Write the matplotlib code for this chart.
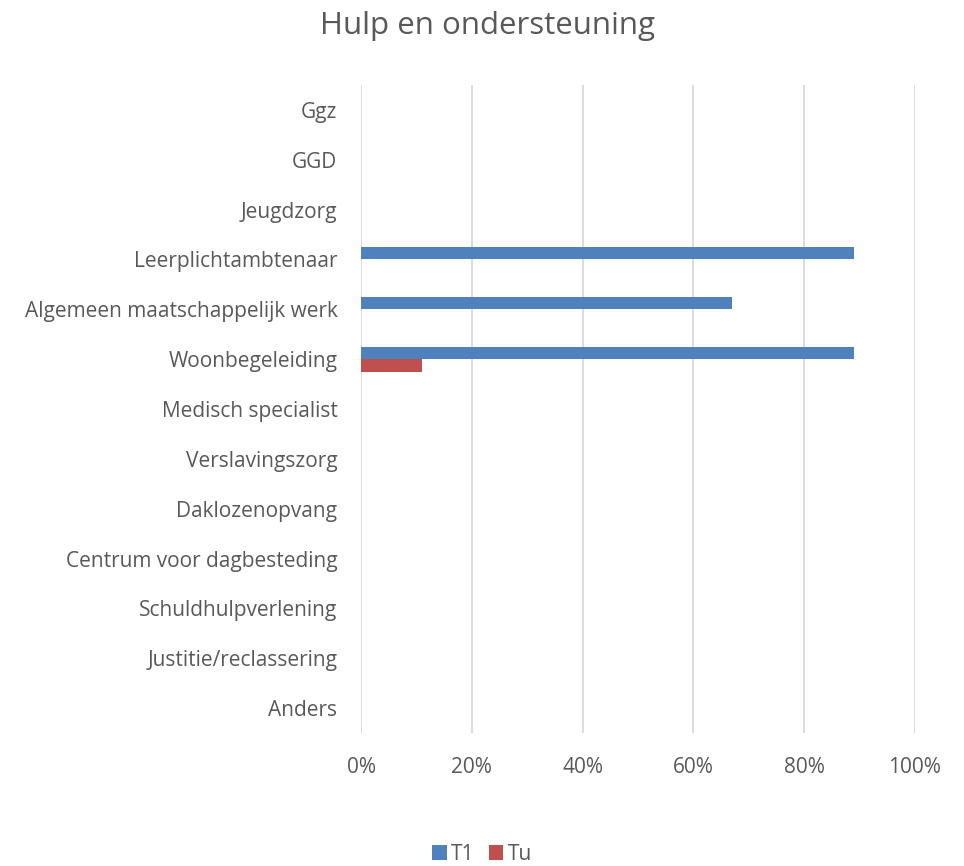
import matplotlib
matplotlib.use('Agg')
import matplotlib.pyplot as plt
import numpy as np

plt.rcParams['font.family'] = ['Open Sans', 'DejaVu Sans']

categories = ['Ggz', 'GGD', 'Jeugdzorg', 'Leerplichtambtenaar',
              'Algemeen maatschappelijk werk', 'Woonbegeleiding',
              'Medisch specialist', 'Verslavingszorg', 'Daklozenopvang',
              'Centrum voor dagbesteding', 'Schuldhulpverlening',
              'Justitie/reclassering', 'Anders']
t1 = [0, 0, 0, 89, 67, 89, 0, 0, 0, 0, 0, 0, 0]
tu = [0, 0, 0, 0, 0, 11, 0, 0, 0, 0, 0, 0, 0]
ticks = [0, 20, 40, 60, 80, 100]
tick_labels = ['0%', '20%', '40%', '60%', '80%', '100%']

grey = '#595959'
blue = '#4F81BD'
red = '#C0504D'

fig = plt.figure(figsize=(9.64, 8.66), dpi=100)
W, H = 964, 866
ax = fig.add_axes([361 / W, 1 - 733 / H, (915 - 361) / W, (733 - 85) / H])

y = np.arange(len(categories))
h = 0.25
ax.barh(y - h / 2, t1, height=h, color=blue, label='T1', zorder=3)
ax.barh(y + h / 2, tu, height=h, color=red, label='Tu', zorder=3)

ax.set_ylim(len(categories) - 0.5, -0.5)
ax.set_xlim(0, 100)
ax.set_xticks(ticks)
ax.set_xticklabels(tick_labels)
ax.set_yticks(y)
ax.set_yticklabels(categories)
ax.tick_params(length=0, labelsize=15, colors=grey)
ax.tick_params(axis='x', pad=17)
ax.tick_params(axis='y', pad=17)
ax.grid(axis='x', color='#D9D9D9', linewidth=1.3, zorder=0)
for s in ax.spines.values():
    s.set_visible(False)

fig.text(487 / W, 1 - 26 / H, 'Hulp en ondersteuning', ha='center',
         va='center', fontsize=22.5, color=grey)

leg = fig.legend(loc='center', bbox_to_anchor=(482 / W, 1 - 854 / H),
                 ncol=2, frameon=False, fontsize=15, handlelength=0.7,
                 handleheight=0.7, handletextpad=0.2, columnspacing=0.7)
for t in leg.get_texts():
    t.set_color(grey)

fig.savefig('out.png', dpi=100)
